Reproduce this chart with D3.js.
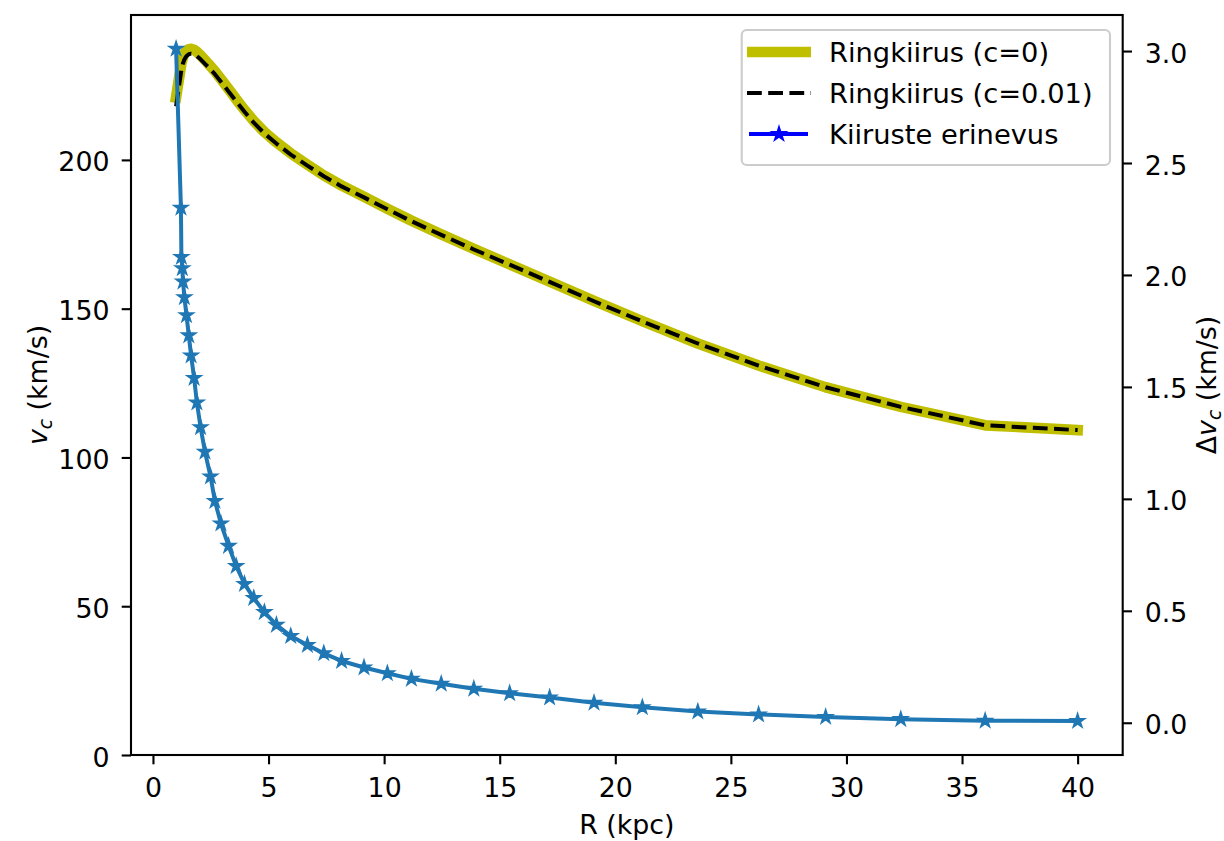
<!DOCTYPE html>
<html>
<head>
<meta charset="utf-8">
<script src="https://cdn.jsdelivr.net/npm/d3@7"></script>
<style>
  html, body { margin: 0; padding: 0; background: #ffffff; }
  svg { display: block; }
  text { font-family: "DejaVu Sans", sans-serif; fill: #000; }
</style>
</head>
<body>
<svg id="chart" width="1224" height="841"></svg>
<script>
// Ring radii (kpc) shared by all three series
const R_KPC = [1.00, 1.21, 1.23, 1.27, 1.30, 1.36, 1.45, 1.55, 1.65, 1.78, 1.90, 2.06, 2.25,
  2.49, 2.68, 2.94, 3.27, 3.60, 3.96, 4.36, 4.82, 5.34, 5.96, 6.68, 7.39, 8.16, 9.13, 10.14,
  11.18, 12.47, 13.88, 15.43, 17.16, 19.08, 21.17, 23.57, 26.20, 29.10, 32.35, 36.00, 40.00];

// Circular velocity, c = 0 (km/s)
const VC_C0 = [221.0, 231.5, 232.4, 233.7, 234.5, 235.7, 236.7, 237.2, 237.3, 237.0, 236.3,
  235.1, 233.5, 231.5, 229.8, 227.2, 223.8, 220.4, 216.8, 213.1, 209.4, 205.9, 202.2, 198.4,
  194.8, 191.4, 187.6, 183.6, 179.6, 175.0, 170.1, 164.9, 159.1, 152.6, 145.8, 138.3, 130.9,
  123.6, 117.0, 110.8, 109.2];

// Circular velocity, c = 0.01 (km/s)
const VC_C001 = [218.0, 229.2, 230.3, 231.7, 232.5, 233.8, 234.9, 235.5, 235.7, 235.5, 234.9,
  233.8, 232.3, 230.4, 228.8, 226.3, 223.0, 219.7, 216.2, 212.5, 208.9, 205.5, 201.8, 198.1,
  194.5, 191.1, 187.4, 183.4, 179.4, 174.8, 169.9, 164.8, 159.0, 152.5, 145.7, 138.3, 130.9,
  123.6, 117.0, 110.8, 109.2];

// Velocity difference between the two models (km/s)
const DV = [3.01, 2.30, 2.08, 2.03, 1.97, 1.90, 1.82, 1.73, 1.64, 1.54, 1.43, 1.32, 1.21,
  1.10, 0.99, 0.89, 0.79, 0.70, 0.62, 0.557, 0.494, 0.437, 0.387, 0.347, 0.310, 0.276, 0.247,
  0.221, 0.196, 0.174, 0.152, 0.132, 0.113, 0.089, 0.069, 0.050, 0.037, 0.026, 0.016, 0.009,
  0.008];

const X_TICKS = [0, 5, 10, 15, 20, 25, 30, 35, 40];
const Y_LEFT_TICKS = [0, 50, 100, 150, 200];
const Y_RIGHT_TICKS = [0.0, 0.5, 1.0, 1.5, 2.0, 2.5, 3.0];

const LEGEND_LABELS = ["Ringkiirus (c=0)", "Ringkiirus (c=0.01)", "Kiiruste erinevus"];

// ---- layout ----
const FS = 26.8;
const FS_LEGEND = 27.3;
const plot = { left: 131, top: 15, right: 1122.7, bottom: 755 };
const TICK_LEN = 9.3;

const svg = d3.select("#chart");

const x = d3.scaleLinear().domain([-0.95, 41.95]).range([plot.left, plot.right]);
const yL = d3.scaleLinear().domain([0, 248.7]).range([plot.bottom, plot.top]);
const yR = d3.scaleLinear().domain([-0.144, 3.161]).range([plot.bottom, plot.top]);

const vc0Pts = R_KPC.map((r, i) => [r, VC_C0[i]]);
const vc001Pts = R_KPC.map((r, i) => [r, VC_C001[i]]);
const dvPts = R_KPC.map((r, i) => [r, DV[i]]);

const lineL = d3.line().x(d => x(d[0])).y(d => yL(d[1]));
const lineR = d3.line().x(d => x(d[0])).y(d => yR(d[1]));

// five-pointed star marker
function starPath(cx, cy, r) {
  const ri = r * 0.381966;
  const pts = [];
  for (let k = 0; k < 10; k++) {
    const a = -Math.PI / 2 + k * Math.PI / 5;
    const rr = k % 2 === 0 ? r : ri;
    pts.push([cx + rr * Math.cos(a), cy + rr * Math.sin(a)]);
  }
  return "M" + pts.map(p => p[0].toFixed(2) + "," + p[1].toFixed(2)).join("L") + "Z";
}

// ---- series ----
const gData = svg.append("g");

gData.append("path")
  .attr("d", lineL(vc0Pts))
  .attr("fill", "none")
  .attr("stroke", "#bfbf00")
  .attr("stroke-width", 10.7)
  .attr("stroke-linejoin", "round")
  .attr("stroke-linecap", "square");

gData.append("path")
  .attr("d", lineL(vc001Pts))
  .attr("fill", "none")
  .attr("stroke", "#000")
  .attr("stroke-width", 4)
  .attr("stroke-dasharray", "14.8,6.4")
  .attr("stroke-linejoin", "round")
  .attr("stroke-linecap", "butt");

gData.append("path")
  .attr("d", lineR(dvPts))
  .attr("fill", "none")
  .attr("stroke", "#1f77b4")
  .attr("stroke-width", 4)
  .attr("stroke-linejoin", "round")
  .attr("stroke-linecap", "square");

gData.selectAll("path.star")
  .data(dvPts)
  .join("path")
  .attr("class", "star")
  .attr("d", d => starPath(x(d[0]), yR(d[1]), 7.3))
  .attr("fill", "#1f77b4")
  .attr("stroke", "#1f77b4")
  .attr("stroke-width", 1.6)
  .attr("stroke-linejoin", "miter");

// ---- axes ----
const axisX = d3.axisBottom(x).tickValues(X_TICKS).tickSize(TICK_LEN).tickSizeOuter(0)
  .tickFormat(d3.format("d"));
const gx = svg.append("g").attr("transform", `translate(0,${plot.bottom})`).call(axisX);

const axisYL = d3.axisLeft(yL).tickValues(Y_LEFT_TICKS).tickSize(TICK_LEN).tickSizeOuter(0)
  .tickFormat(d3.format("d"));
const gyl = svg.append("g").attr("transform", `translate(${plot.left},0)`).call(axisYL);

const axisYR = d3.axisRight(yR).tickValues(Y_RIGHT_TICKS).tickSize(TICK_LEN).tickSizeOuter(0)
  .tickFormat(d3.format(".1f"));
const gyr = svg.append("g").attr("transform", `translate(${plot.right},0)`).call(axisYR);

[gx, gyl, gyr].forEach(g => {
  g.select(".domain").remove();
  g.selectAll(".tick line").attr("stroke", "#000").attr("stroke-width", 2.1);
  g.selectAll(".tick text")
    .style("font-family", "'DejaVu Sans', sans-serif")
    .style("font-size", FS + "px")
    .attr("fill", "#000");
});
gx.selectAll(".tick text").attr("y", 41.7).attr("dy", null);
gyl.selectAll(".tick text").attr("x", -21.5).attr("dy", 11).attr("text-anchor", "end");
gyr.selectAll(".tick text").attr("x", 22).attr("dy", 11).attr("text-anchor", "start");

// frame
svg.append("rect")
  .attr("x", plot.left).attr("y", plot.top)
  .attr("width", plot.right - plot.left).attr("height", plot.bottom - plot.top)
  .attr("fill", "none").attr("stroke", "#000").attr("stroke-width", 2.1);

// axis titles
svg.append("text")
  .attr("x", (plot.left + plot.right) / 2).attr("y", 834)
  .attr("text-anchor", "middle").style("font-size", FS + "px")
  .text("R (kpc)");

const midY = (plot.top + plot.bottom) / 2;

const tl = svg.append("text")
  .attr("transform", `translate(47,${midY}) rotate(-90)`)
  .attr("text-anchor", "middle").style("font-size", FS + "px");
tl.append("tspan").style("font-style", "italic").text("v");
tl.append("tspan").style("font-style", "italic").style("font-size", (FS * 0.7) + "px")
  .attr("dy", 5).text("c");
tl.append("tspan").attr("dy", -5).text(" (km/s)");

const tr = svg.append("text")
  .attr("transform", `translate(1216,${midY}) rotate(-90)`)
  .attr("text-anchor", "middle").style("font-size", FS + "px");
tr.append("tspan").text("Δ");
tr.append("tspan").style("font-style", "italic").text("v");
tr.append("tspan").style("font-style", "italic").style("font-size", (FS * 0.7) + "px")
  .attr("dy", 5).text("c");
tr.append("tspan").attr("dy", -5).text(" (km/s)");

// ---- legend ----
const lg = svg.append("g");
lg.append("rect")
  .attr("x", 741.7).attr("y", 30).attr("width", 368.3).attr("height", 135)
  .attr("rx", 5).attr("ry", 5)
  .attr("fill", "#fff").attr("fill-opacity", 0.8)
  .attr("stroke", "#cccccc").attr("stroke-width", 2.1);

const rowY = [52, 93, 134];
const hx0 = 747, hx1 = 811;

lg.append("line").attr("x1", hx0).attr("x2", hx1).attr("y1", rowY[0]).attr("y2", rowY[0])
  .attr("stroke", "#bfbf00").attr("stroke-width", 10.7);
lg.append("line").attr("x1", hx0).attr("x2", hx1).attr("y1", rowY[1]).attr("y2", rowY[1])
  .attr("stroke", "#000").attr("stroke-width", 4).attr("stroke-dasharray", "14.8,6.4");
lg.append("line").attr("x1", hx0 + 2).attr("x2", hx1 - 3).attr("y1", rowY[2]).attr("y2", rowY[2])
  .attr("stroke", "#0000ff").attr("stroke-width", 4);
lg.append("path").attr("d", starPath((hx0 + hx1) / 2, rowY[2], 7.3))
  .attr("fill", "#0000ff").attr("stroke", "#0000ff").attr("stroke-width", 1.6);

lg.selectAll("text.lbl")
  .data(LEGEND_LABELS)
  .join("text")
  .attr("class", "lbl")
  .attr("x", 829)
  .attr("y", (d, i) => rowY[i] + 9.7)
  .style("font-size", FS_LEGEND + "px")
  .text(d => d);
</script>
</body>
</html>
